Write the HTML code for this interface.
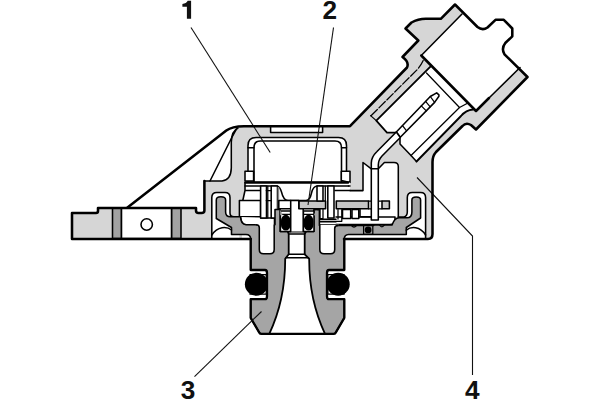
<!DOCTYPE html>
<html>
<head>
<meta charset="utf-8">
<title>Pressure sensor cross-section</title>
<style>
html,body{margin:0;padding:0;background:#fff;}
body{width:600px;height:400px;overflow:hidden;font-family:"Liberation Sans",sans-serif;}
svg{display:block;}
.lbl{font-family:"Liberation Sans",sans-serif;font-weight:bold;font-size:26.2px;fill:#111;}
.lg{fill:#d6d6d6;}
.mg{fill:#a5a5a5;}
.pl{fill:#c6c6c6;}
.w{fill:#fff;}
.k{stroke:#000;stroke-width:1.55;stroke-linejoin:round;stroke-linecap:round;}
.kt{stroke:#000;stroke-width:2.55;stroke-linejoin:round;stroke-linecap:round;fill:none;}
.kn{stroke:#000;stroke-width:1.55;fill:none;stroke-linejoin:round;stroke-linecap:round;}
.kf{stroke:#000;stroke-width:1.25;fill:none;stroke-linejoin:round;stroke-linecap:round;}
.ld{stroke:#111;stroke-width:1.1;fill:none;}
</style>
</head>
<body>
<svg width="600" height="400" viewBox="0 0 600 400">
<rect x="0" y="0" width="600" height="400" fill="#fff"/>

<!-- ===== HOUSING (light grey) ===== -->
<g id="housing">
<path class="lg" d="M72,213 H97 V208 H196 V211 Q196,213 198,213 H202 Q204.4,213 204.4,211 V181 H222 Q231,180 231.3,168 V142 Q231.5,127 244,126 H350 L407,67.5 Q409.5,62 402.5,57 L418.3,40.5 L405.5,28.5 L411.5,22.5 Q418,19 425.8,18.8 H440.8 L455,4.5 L462,14 L421.3,55.5 L476,111 L520,67.5 L527.5,77 L476,129.5 L471,125 Q466,122 462.5,126 L436,152 Q432.5,156 432.5,162 V234 Q432.5,238.5 428,238.5 H72 Z"/>
</g>

<!-- rib line -->
<path class="kn" d="M210,181 L231.3,138.5 L236.5,129"/>
<!-- LG wall left edge + fillet -->
<path class="kn" d="M204.4,181 H222 Q231,180 231.3,168 V142 Q231.6,131 238,128"/>

<!-- ===== FLANGE details ===== -->
<g id="flange">
<rect class="k" x="112.5" y="208" width="9" height="30.5" fill="#a2a2a2"/>
<rect class="k" x="171.5" y="208" width="9.5" height="30.5" fill="#a2a2a2"/>
<rect class="w k" x="121.5" y="208" width="50" height="30.5"/>
<circle class="w k" cx="146.7" cy="224.5" r="5.7"/>
</g>

<!-- ===== top slot ===== -->
<rect class="w k" x="270.6" y="126" width="52" height="6.4"/>

<!-- ===== CONNECTOR interior ===== -->
<g id="connector">
<!-- white block + cavity -->
<path class="w" d="M462,14 L455,4.5 L477.5,27 Q482.5,31 487.5,27.5 L495.5,19.8 H503.8 L512.3,28.5 V36.3 L505.3,43 Q501,48.5 504.5,54.3 L527.5,77 L520,67.5 L476,111 L470.5,108.5 L466,111.5 L416.5,161.5 L411,155.5 L400,144 V137 L395.6,132.6 H387 L376.3,120.6 L431.4,65.6 L421.3,55.5 Z"/>
<!-- upper wall hidden (dashed) line -->
<path class="kf" d="M371,115.8 L417,69.8 Q422,64 424,58.5" stroke-dasharray="9,2.2"/>
<path class="kf" d="M370.6,115.6 L376.3,120.6"/>
<!-- cavity edges -->
<path class="kn" style="stroke-width:1.8" d="M431.4,65.6 L376.3,120.6 L387,132.6 H395.6"/>
<path class="kn" d="M400,137 V144 L411,155.5 L416.5,161.5"/>
<!-- line 1 & step -->
<path class="kf" d="M411,155.5 L459.5,107.5 L426.5,73"/>
<path class="kf" d="M459.5,107.5 L467,103.5"/>
<!-- line 2 -->
<path class="kn" style="stroke-width:1.9" d="M416.5,161.5 L461,116 Q466,110 473,109.5"/>
<!-- block edges -->
<path class="kn" d="M462,14 L421.3,55.5"/>
<path class="kt" d="M421.3,55.5 L476,111 L489,98"/>
<path class="kn" d="M489,98 L520,67.5"/>
<!-- pin -->
<path class="w kn" d="M396.3,132 L430.3,96.5 L436.7,92.9 L438.9,94.8 V96.3 L434.6,102.4 L400.3,137.2 Z"/>
<path class="kf" d="M421.3,105.9 L426.3,110.9 M425.6,101.4 L430.2,106.8 M430.3,96.5 L434.6,102.4 M402.5,125.6 L406.6,130.8"/>
</g>

<!-- ===== cap (1) ===== -->
<g id="cap">
<path class="w k" d="M248,182.4 V145.5 Q248,137.5 256.2,137.5 H338.5 Q346.5,137.5 346.5,145.5 V182.4 Z"/>
<path class="kn" d="M254,182 V147.5 Q254,141 260.5,141 H335 Q341.5,141 341.5,147.5 V182"/>
<path class="kn" d="M248,147.7 H254 M341.5,147.7 H346.5"/>
<rect class="w k" x="245" y="171.2" width="8.6" height="9.8"/>
<path class="w k" d="M341.3,171.2 H350 V182.4 L341.3,180.5 Z"/>
</g>

<!-- ===== interior white zone under the cap ===== -->
<g id="interior">
<path class="w" d="M245.6,182.4 H350 V190.6 H363 V162.5 L371.3,168.8 H378.3 L384.4,162.5 H394 Q398.3,162.5 398.3,166.5 V217 H398.6 V238 H242 V217 H239.4 V200.5 H242.8 L245,190.5 Z"/>
<!-- cavity right outline -->
<path class="kn" d="M350,190.6 H363 V162.5 L371.3,168.8 H378.3 L384.4,162.5 H394 Q398.3,162.5 398.3,166.5 V217"/>
<path class="kt" d="M245.6,182.4 H348"/>
<path class="kn" d="M335,190.5 H350 M348.5,186 H350"/>
<!-- gel-well line -->
<path class="kn" d="M245,186 H277 Q280,186.5 281.5,192 Q283.5,200.5 288,200.5 H306 Q310,200.5 311.5,193 Q313,186.5 317,186 H348.5"/>
<!-- left shelf, trapezoid -->
<path class="kn" d="M245,182.4 V190.5 H260 M245,190.5 L242.8,200.5"/>
<!-- left carrier block -->
<rect class="w k" x="239.4" y="200.5" width="21.2" height="16.3"/>
<!-- under-plate (white) -->
<path class="w k" d="M240.5,217 Q241.5,224.5 246,224.7 H274.5 V218 H260.6"/>
<!-- pins left -->
<rect class="w k" x="260.6" y="186" width="5.9" height="32"/>
<rect class="w k" x="271.2" y="186" width="6.3" height="32"/>
<path class="kf" d="M267.8,186 V218 M266.2,190.5 H271.2 M266.2,200.5 H271.2"/>
<rect x="277.6" y="187" width="1.6" height="22" fill="#888"/>
<!-- right side: plate under pins -->
<path class="w k" d="M336,217 H395 V220 Q395,224.5 390,224.5 H336"/>
<path class="kn" d="M319.5,219.3 H336 M319.5,221.8 H336 M319.5,224.8 H336"/>
<!-- small pads -->
<rect class="w k" x="342.5" y="209.5" width="8.2" height="9"/>
<rect class="w k" x="352" y="209.5" width="6.8" height="9"/>
<path class="kn" d="M360,209.5 V216.8 H371.3"/>
</g>

<!-- plates (2) -->
<rect class="pl k" x="298.8" y="201" width="26.8" height="7.8"/>
<rect class="pl k" x="336.3" y="201" width="32.2" height="7.8"/>
<rect class="pl k" x="382" y="201" width="7.4" height="7.8"/>
<path class="kf" d="M368.5,201 H382 M368.5,208.8 H382"/>
<!-- pins right -->
<rect class="w k" x="317" y="186" width="6" height="15"/>
<rect class="w k" x="327.8" y="186" width="6.2" height="32"/>
<path class="kf" d="M325.3,186 V201"/>
<!-- wire (drawn over cavity and plate) -->
<path class="w" d="M396.3,132 L377,151.5 Q371.3,157 371.3,163 V220 H378.3 V165 Q378.3,160 382,156 L400.3,137.5 Z"/>
<path class="kn" d="M396.3,132 L377,151.5 Q371.3,157 371.3,163 V220 H378.3 V165 Q378.3,160 382,156 L400.3,137.5 M396.3,132 L400.3,137.5 M371.3,168.8 H378.3"/>

<!-- ===== right cavity (slot) ===== -->
<path class="w" d="M398.3,217 H404 Q407.3,216 407.3,212 V197.5 Q407.3,192.5 412.3,192.5 H420.6 Q425.6,192.5 425.6,197.5 V238.5 H398 Z"/>
<path class="kn" d="M398.3,217 H404 Q407.3,216 407.3,212 V197.5 Q407.3,192.5 412.3,192.5 H420.6 Q425.6,192.5 425.6,197.5 V238.5"/>
<!-- ===== left cavity (slot) ===== -->
<path class="w" d="M211.8,238.5 V197.5 Q211.8,192.4 216.8,192.4 H225 Q230,192.4 230,197.5 V213 Q230,216.8 234,216.8 H239.4 V238.5 Z"/>
<path class="kn" d="M211.8,238.5 V197.5 Q211.8,192.4 216.8,192.4 H225 Q230,192.4 230,197.5 V213 Q230,216.8 234,216.8 H239.4"/>

<!-- ===== PORT BODY (dark grey) ===== -->
<g id="port">
<path class="mg k" d="M216.3,200 Q216.3,196.8 220.9,196.8 Q225.6,196.8 225.6,200 V212 Q225.6,216.8 230.5,216.8 H240.5 Q240.8,224.6 246,224.7 H275 V209.4 H280.2 V231.5 H313.8 V209.8 L315,209.8 L319.4,209.8 V225.5 H336 H373.8 V225 H392 Q394.5,218 399,217.8 H407 Q411.9,217.8 411.9,212 V200 Q411.9,197 416.2,197 Q420.6,197 420.6,200 V218 L406.3,227.5 V234.4 H348.5 Q344.3,234.6 344.3,239 V270 H329 Q327,270 327,273 V296.2 Q327,299.2 329,299.2 H344.3 V317.8 L335,333.8 H260 L250.7,317.8 V299.2 H265 Q267,299.2 267,296.2 V273 Q267,270 265,270 H250.7 V239 Q250.7,234.6 246,234.5 H231.5 V227.5 L216.3,218.5 Z"/>
<!-- inner bore -->
<path class="w k" style="stroke-width:1.8" d="M290.6,231.5 H304 L306.2,231 L304.7,234 V254.3 L309.2,258.8 Q309,300 325,333.8 H269.3 Q285.3,300 285.2,258.8 L288.7,254.3 V234 L287.5,231 Z"/>
<path class="kn" d="M288.7,234 H304.7 M288.7,254.3 H305 M286,257.8 H308.5"/>
<path class="kt" style="stroke-width:2.3" d="M250.7,238.9 V270 H265 Q267,270 267,273 V296.2 Q267,299.2 265,299.2 H250.7 V317.8 L259.3,332.6 Q260,333.8 261.5,333.8 H333.5 Q335,333.8 335.7,332.6 L344.3,317.8 V299.2 H329 Q327,299.2 327,296.2 V273 Q327,270 329,270 H344.3 V238.9"/>
<!-- annular slots -->
<path class="w" d="M255.5,223.9 H274.2 V249.5 Q274.2,253.8 270,253.8 H263.5 Q259.3,253.8 259.3,249.5 V227.8 Q259.3,224.7 256.3,224.7 Z"/>
<path class="kn" d="M256.3,224.7 Q259.3,224.7 259.3,227.8 V249.5 Q259.3,253.8 263.5,253.8 H270 Q274.2,253.8 274.2,249.5 V224.7"/>
<path class="w" d="M339,224.7 H319.8 V249.5 Q319.8,253.8 324,253.8 H330.5 Q334.7,253.8 334.7,249.5 V228.5 Q334.7,225.5 338,225.5 Z"/>
<path class="kn" d="M338,225.5 Q334.7,225.5 334.7,228.5 V249.5 Q334.7,253.8 330.5,253.8 H324 Q319.8,253.8 319.8,249.5 V224.7"/>
</g>
<!-- little bump + mini o-ring on right shoulder -->
<path class="w kf" d="M379.4,225 Q382,228.5 384.4,225"/>
<path class="w kf" d="M351.5,225.5 Q354,228.5 356.5,225.5"/>
<rect class="w kf" x="363.6" y="225.3" width="9.2" height="9"/>
<circle cx="368.1" cy="229.9" r="3.4" fill="#000"/>

<!-- dome arcs inside the slots -->
<path class="kn" d="M406.3,230.2 C411,226.3 420,226 425.6,235"/>
<path class="kn" d="M231.5,230 C227,226.2 217.5,226 211.8,235"/>

<!-- o-rings big -->
<g id="orings">
<rect class="w kf" x="250" y="274.5" width="16.3" height="19.7"/>
<rect class="w kf" x="327.8" y="274.5" width="16.3" height="19.7"/>
<circle cx="256.4" cy="284.2" r="11.5" fill="#000"/>
<circle cx="338.2" cy="284.2" r="11.5" fill="#000"/>
</g>

<!-- ===== small o-ring seats (centre) ===== -->
<g id="seal">
<rect class="w k" x="280.4" y="211" width="10.3" height="20.5"/>
<rect class="w k" x="303.4" y="211" width="10.6" height="20.5"/>
<path class="kf" d="M280.4,214.3 H290.7 M303.4,214.3 H314"/>
<rect x="280.9" y="214.8" width="9.8" height="15.8" rx="4.9" ry="6.4" fill="#000"/>
<rect x="303.7" y="214.8" width="9.8" height="15.8" rx="4.9" ry="6.4" fill="#000"/>
<rect class="w k" x="278.8" y="200.5" width="12" height="8.3"/>
<path class="mg" d="M280.2,209.6 L282.6,215.3 H280.2 Z M316.3,209.8 L313.9,215.3 H316.3 Z"/>
<path class="w k" d="M290.7,231.5 V200.5 H298.8 V208.8 H303.2 V231.5"/>
<!-- small pins under plate 2 -->
<path class="w kf" d="M320,208.8 V218.5 H323 V208.8 M338,209.5 V219 M341.8,209.5 V221.3 H320"/>
</g>

<!-- ===== LEADERS ===== -->
<g id="leaders">
<path class="ld" d="M191,27.5 L270.2,152.5"/>
<path class="ld" d="M333.5,27.5 L308,205"/>
<path class="ld" d="M194.5,376.7 L261.5,311.5"/>
<path class="ld" d="M417,177.5 L472.5,236 V375"/>
</g>

<!-- ===== OUTER THICK OUTLINE ===== -->
<g id="outline">
<path class="kt" d="M127.5,207.5 L226.3,130.6 Q232,126.2 244,126.2 H350 L407,67.5 Q409.5,62 402.5,57 L418.3,40.5 L405.5,28.5 L411.5,22.5 Q418,19 425.8,18.8 H440.8 L455,4.5 L477.5,27 Q482.5,31 487.5,27.5 L495.5,19.8 H503.8 L512.3,28.5 V36.3 L505.3,43 Q501,48.5 504.5,54.3 L527.5,77 L476,129.5 L471,125 Q466,122 462.5,126 L436,152 Q432.5,156 432.5,162 V234 Q432.5,238.9 428,238.9 H344"/>
<path class="kt" d="M250.7,238.9 H72 V213 H96 Q98,213 98,211 V208 H196 V210.5 Q196,213 198.5,213 H201.5 Q204.4,213 204.4,210.5 V181"/>
</g>

<!-- ===== LABELS ===== -->
<path d="M191.1,0.8 V18.8 H186.9 V6.7 H182.4 V3.9 Q186.4,3.7 187.7,0.8 Z" fill="#111"/>
<text class="lbl" x="322.4" y="18.9">2</text>
<text class="lbl" x="180.8" y="398.6">3</text>
<text class="lbl" x="465.1" y="398.5">4</text>
</svg>
</body>
</html>
